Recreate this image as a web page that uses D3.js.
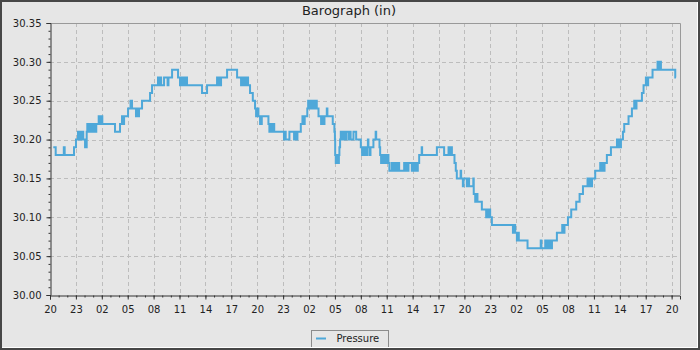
<!DOCTYPE html>
<html>
<head>
<meta charset="utf-8">
<script src="https://cdn.jsdelivr.net/npm/d3@7"></script>
<style>
body { margin: 0; background: #e6e6e6; }
svg { display: block; font-family: "DejaVu Sans", sans-serif; }
</style>
</head>
<body>
<div id="chart"></div>
<script>
// readings: [hours after 20:00 on the first day, pressure in inches]
var day1 = [
  [0.38, 30.19], [0.66, 30.18], [1.6, 30.19], [1.7, 30.18], [2.78, 30.19], [3.01, 30.20],
  [3.24, 30.21], [3.38, 30.20], [3.52, 30.21], [3.66, 30.20], [3.78, 30.21], [3.85, 30.20]
];
var day2 = [
  [4.06, 30.19], [4.25, 30.21], [4.32, 30.22], [4.46, 30.21], [4.6, 30.22], [4.72, 30.21],
  [4.88, 30.22], [5.0, 30.21], [5.12, 30.22], [5.24, 30.21], [5.36, 30.22],
  [5.64, 30.23], [5.78, 30.22], [5.92, 30.23], [6.06, 30.22],
  [7.53, 30.21], [8.11, 30.22], [8.34, 30.23], [8.46, 30.22], [8.58, 30.23],
  [9.04, 30.24], [9.33, 30.25], [9.5, 30.24], [9.96, 30.23], [10.08, 30.24], [10.16, 30.23], [10.31, 30.24],
  [10.66, 30.25], [11.59, 30.26], [11.82, 30.27],
  [12.51, 30.28], [12.63, 30.27], [12.75, 30.28], [12.87, 30.27],
  [13.21, 30.28], [13.62, 30.27], [13.72, 30.28], [14.14, 30.29], [14.83, 30.28],
  [15.06, 30.27], [15.2, 30.28], [15.34, 30.27], [15.48, 30.28], [15.62, 30.27], [15.76, 30.28], [15.87, 30.27],
  [17.61, 30.26], [18.19, 30.27],
  [19.35, 30.28], [19.47, 30.27], [19.59, 30.28], [19.71, 30.27], [19.81, 30.28],
  [20.51, 30.29], [21.67, 30.28],
  [22.13, 30.27], [22.27, 30.28], [22.41, 30.27], [22.55, 30.28], [22.69, 30.27], [22.83, 30.28], [22.94, 30.27],
  [23.17, 30.26], [23.49, 30.25],
  [23.75, 30.24], [23.87, 30.23], [23.99, 30.24], [24.14, 30.23],
  [24.33, 30.22], [24.53, 30.23], [25.3, 30.22],
  [25.41, 30.21], [25.55, 30.22], [25.69, 30.21], [25.83, 30.22], [25.97, 30.21],
  [27.1, 30.20], [27.2, 30.21], [27.3, 30.20], [27.73, 30.21]
];
var day3 = [
  [28.27, 30.20], [28.4, 30.21], [28.53, 30.20], [28.66, 30.21],
  [29.05, 30.22], [29.24, 30.23], [29.37, 30.22], [29.5, 30.23], [29.8, 30.24],
  [29.9, 30.25], [30.03, 30.24], [30.16, 30.25], [30.29, 30.24], [30.42, 30.25], [30.55, 30.24], [30.68, 30.25], [30.9, 30.24],
  [31.1, 30.23], [31.4, 30.22], [31.53, 30.23], [31.66, 30.22], [31.79, 30.23],
  [32.06, 30.24], [32.13, 30.23], [32.75, 30.22], [32.94, 30.21], [33.0, 30.20], [33.03, 30.18],
  [33.1, 30.17], [33.22, 30.18], [33.34, 30.17], [33.46, 30.18],
  [33.52, 30.19], [33.6, 30.20], [33.68, 30.21],
  [33.76, 30.20], [33.88, 30.21], [34.0, 30.20], [34.12, 30.21], [34.24, 30.20], [34.3, 30.21],
  [34.57, 30.20], [34.74, 30.21], [34.82, 30.20], [35.15, 30.21], [35.46, 30.20], [36.0, 30.19],
  [36.15, 30.18], [36.28, 30.19], [36.41, 30.18], [36.54, 30.19], [36.67, 30.18], [36.78, 30.19],
  [36.82, 30.20], [36.88, 30.19], [37.05, 30.18], [37.12, 30.19], [37.46, 30.20], [37.72, 30.21], [37.78, 30.20],
  [38.16, 30.19], [38.24, 30.18],
  [38.35, 30.17], [38.48, 30.18], [38.61, 30.17], [38.74, 30.18], [38.87, 30.17], [39.0, 30.18],
  [39.2, 30.17], [39.31, 30.16],
  [39.59, 30.17], [39.72, 30.16], [39.85, 30.17], [39.98, 30.16], [40.11, 30.17], [40.24, 30.16], [40.37, 30.17], [40.44, 30.16],
  [41.02, 30.17], [41.15, 30.16], [41.28, 30.17], [41.41, 30.16], [41.52, 30.17],
  [41.91, 30.16], [42.04, 30.17], [42.17, 30.16], [42.3, 30.17], [42.43, 30.16], [42.6, 30.17],
  [42.76, 30.18], [43.05, 30.19], [43.1, 30.18], [44.81, 30.19], [45.65, 30.18],
  [46.16, 30.19], [46.29, 30.18], [46.42, 30.19], [46.55, 30.18],
  [46.85, 30.17], [47.0, 30.16], [47.12, 30.15], [47.56, 30.16], [47.62, 30.15], [47.82, 30.14], [47.9, 30.15],
  [48.28, 30.14], [48.41, 30.15], [48.54, 30.14],
  [49.03, 30.15], [49.08, 30.13],
  [49.25, 30.12], [49.38, 30.13], [49.51, 30.12],
  [50.02, 30.11], [50.52, 30.10], [50.65, 30.11], [50.78, 30.10], [50.91, 30.11], [50.98, 30.10],
  [51.18, 30.09]
];
var day4 = [
  [53.62, 30.08], [53.75, 30.09], [53.88, 30.08],
  [54.08, 30.07], [54.2, 30.08], [54.3, 30.07],
  [55.31, 30.06], [56.84, 30.07], [56.92, 30.06],
  [57.36, 30.07], [57.49, 30.06], [57.62, 30.07], [57.75, 30.06], [57.88, 30.07], [58.01, 30.06], [58.14, 30.07],
  [58.71, 30.08], [59.33, 30.09], [59.46, 30.08], [59.59, 30.09],
  [59.99, 30.10], [60.37, 30.11], [60.95, 30.12], [61.34, 30.13], [61.73, 30.14],
  [62.26, 30.15], [62.39, 30.14], [62.52, 30.15], [62.65, 30.14], [62.78, 30.15],
  [63.15, 30.16], [63.73, 30.17], [63.86, 30.16], [63.99, 30.17], [64.12, 30.16], [64.23, 30.17],
  [64.5, 30.18], [64.97, 30.19],
  [65.67, 30.20], [65.8, 30.19], [65.93, 30.20], [66.06, 30.19], [66.13, 30.20],
  [66.36, 30.21], [66.51, 30.22], [67.01, 30.23], [67.4, 30.24],
  [67.67, 30.25], [67.8, 30.24], [67.93, 30.25],
  [68.56, 30.26], [68.75, 30.27], [69.02, 30.28], [69.15, 30.27], [69.28, 30.28],
  [69.79, 30.29], [70.37, 30.30], [70.5, 30.29], [70.63, 30.30], [70.76, 30.29],
  [72.42, 30.28], [72.5, 30.28]
];

var majorHours = [0, 3, 6, 9, 12, 15, 18, 21, 24, 27, 30, 33, 36, 39, 42, 45, 48, 51, 54, 57, 60, 63, 66, 69, 72];
var majorValues = [30.00, 30.05, 30.10, 30.15, 30.20, 30.25, 30.30, 30.35];

var readings = day1.concat(day2, day3, day4);
var startTime = new Date(2021, 0, 1, 20, 0);
var endHour = 72.97;

function toDate(h) {
  return new Date(startTime.getTime() + h * 3600000);
}

var width = 700;
var height = 350;
var plotLeft = 50, plotRight = 680, plotTop = 23, plotBottom = 295;

var svg = d3.select("#chart").append("svg")
  .attr("width", width)
  .attr("height", height);

svg.append("rect")
  .attr("width", width)
  .attr("height", height)
  .attr("fill", "#e6e6e6");

var x = d3.scaleTime()
  .domain([toDate(0), toDate(endHour)])
  .range([plotLeft, plotRight]);

var y = d3.scaleLinear()
  .domain([30.00, 30.35])
  .range([plotBottom, plotTop]);

var minorHours = d3.range(0, 73);
var minorValues = d3.range(0, 36).map(function (i) { return 30 + i / 100 });

// grid
svg.append("g")
  .selectAll("line")
  .data(majorHours.slice(1))
  .enter()
  .append("line")
  .attr("x1", function (d) { return Math.round(x(toDate(d))) + 0.5 })
  .attr("x2", function (d) { return Math.round(x(toDate(d))) + 0.5 })
  .attr("y1", plotTop)
  .attr("y2", plotBottom)
  .attr("stroke", "#bdbdbd")
  .attr("stroke-dasharray", "4,3");

svg.append("g")
  .selectAll("line")
  .data(majorValues.slice(1, -1))
  .enter()
  .append("line")
  .attr("x1", plotLeft)
  .attr("x2", plotRight)
  .attr("y1", function (d) { return Math.round(y(d)) + 0.5 })
  .attr("y2", function (d) { return Math.round(y(d)) + 0.5 })
  .attr("stroke", "#bdbdbd")
  .attr("stroke-dasharray", "4,3");

// plot outline top and right
svg.append("path")
  .attr("d", "M" + plotLeft + "," + (plotTop + 0.5) + "H" + (plotRight + 0.5) + "V" + plotBottom)
  .attr("fill", "none")
  .attr("stroke", "#999");

// pressure line
svg.append("clipPath")
  .attr("id", "plot-clip")
  .append("rect")
  .attr("x", plotLeft)
  .attr("y", plotTop)
  .attr("width", plotRight - plotLeft)
  .attr("height", plotBottom - plotTop);

var line = d3.line()
  .x(function (d) { return x(toDate(d[0])) })
  .y(function (d) { return y(d[1]) })
  .curve(d3.curveStepAfter);

svg.append("path")
  .datum(readings)
  .attr("clip-path", "url(#plot-clip)")
  .attr("d", line)
  .attr("fill", "none")
  .attr("stroke", "#4ea8d9")
  .attr("stroke-width", 2);

// axes
svg.append("g")
  .attr("transform", "translate(0," + (plotBottom + 0.5) + ")")
  .call(d3.axisBottom(x)
    .tickValues(majorHours.map(toDate))
    .tickFormat(d3.timeFormat("%H"))
    .tickSizeOuter(0)
    .tickSize(4)
    .tickPadding(6));

svg.append("g")
  .attr("transform", "translate(0," + (plotBottom + 0.5) + ")")
  .call(d3.axisBottom(x)
    .tickValues(minorHours.map(toDate))
    .tickFormat("")
    .tickSizeOuter(0)
    .tickSize(2))
  .select(".domain").remove();

svg.append("g")
  .attr("transform", "translate(" + (plotLeft + 0.5) + ",0)")
  .call(d3.axisLeft(y)
    .tickValues(majorValues)
    .tickFormat(d3.format(".2f"))
    .tickSizeOuter(0)
    .tickSize(4)
    .tickPadding(5));

svg.append("g")
  .attr("transform", "translate(" + (plotLeft + 0.5) + ",0)")
  .call(d3.axisLeft(y)
    .tickValues(minorValues)
    .tickFormat("")
    .tickSizeOuter(0)
    .tickSize(2))
  .select(".domain").remove();

svg.selectAll(".domain, .tick line").attr("stroke", "#333");
svg.selectAll(".tick text")
  .attr("fill", "#222")
  .style("font-size", "10px")
  .style("font-family", "'DejaVu Sans', sans-serif");

// title
svg.append("text")
  .attr("x", 349)
  .attr("y", 15)
  .attr("text-anchor", "middle")
  .attr("fill", "#222")
  .style("font-size", "13px")
  .text("Barograph (in)");

// legend
svg.append("rect")
  .attr("x", 311.5)
  .attr("y", 330.5)
  .attr("width", 77)
  .attr("height", 17)
  .attr("fill", "none")
  .attr("stroke", "#8c8c8c");

svg.append("line")
  .attr("x1", 316)
  .attr("x2", 326)
  .attr("y1", 338.5)
  .attr("y2", 338.5)
  .attr("stroke", "#4ea8d9")
  .attr("stroke-width", 2);

svg.append("text")
  .attr("x", 336.5)
  .attr("y", 342)
  .attr("fill", "#222")
  .style("font-size", "10px")
  .text("Pressure");

// frame
svg.append("rect").attr("x", 697).attr("y", 2).attr("width", 1).attr("height", 346).attr("fill", "#fff");
svg.append("rect").attr("x", 2).attr("y", 347).attr("width", 696).attr("height", 1).attr("fill", "#fff");
svg.append("rect").attr("x", 0).attr("y", 0).attr("width", 700).attr("height", 2).attr("fill", "#474747");
svg.append("rect").attr("x", 0).attr("y", 0).attr("width", 2).attr("height", 350).attr("fill", "#474747");
svg.append("rect").attr("x", 698).attr("y", 0).attr("width", 2).attr("height", 350).attr("fill", "#474747");
svg.append("rect").attr("x", 0).attr("y", 348).attr("width", 700).attr("height", 2).attr("fill", "#474747");
</script>
</body>
</html>
